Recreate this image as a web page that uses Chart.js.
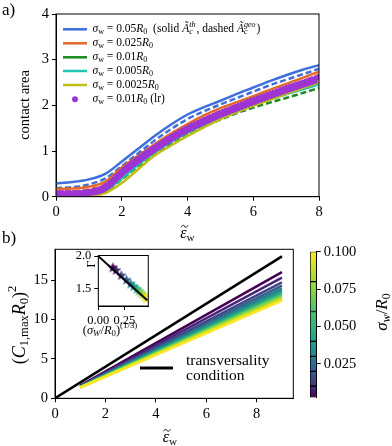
<!DOCTYPE html>
<html>
<head>
<meta charset="utf-8">
<script src="https://cdn.jsdelivr.net/npm/chart.js@4.4.1/dist/chart.umd.min.js"></script>
<style>
  body { margin: 0; background: #fff; width: 392px; height: 446px; position: relative; overflow: hidden; }
  canvas { position: absolute; }
</style>
</head>
<body>
<canvas id="cA" width="392" height="245" style="left:0;top:0"></canvas>
<canvas id="cB" width="392" height="220" style="left:0;top:226px"></canvas>
<canvas id="cI" width="95" height="95" style="left:62px;top:245px"></canvas>
<canvas id="cC" width="92" height="170" style="left:300px;top:240px"></canvas>
<script>
// ---- panel a) contact area vs eps_w ----
const epsA = [0, 0.5, 1, 1.5, 2, 2.5, 3, 3.5, 4, 4.5, 5, 5.5, 6, 6.5, 7, 7.5, 8]
const blueSolid   = [0.29, 0.32, 0.38, 0.50, 0.77, 1.05, 1.33, 1.58, 1.80, 1.96, 2.10, 2.25, 2.39, 2.53, 2.66, 2.78, 2.88]
const blueDashed  = [0.19, 0.21, 0.27, 0.40, 0.67, 0.95, 1.23, 1.48, 1.70, 1.87, 2.02, 2.16, 2.30, 2.44, 2.56, 2.68, 2.80]
const orangeSolid = [0.17, 0.18, 0.22, 0.33, 0.64, 0.90, 1.15, 1.38, 1.59, 1.78, 1.94, 2.07, 2.20, 2.34, 2.47, 2.60, 2.74]
const orangeDash  = [0.11, 0.12, 0.16, 0.27, 0.57, 0.83, 1.08, 1.31, 1.52, 1.71, 1.87, 2.00, 2.13, 2.27, 2.40, 2.53, 2.67]
const greenSolid  = [0.05, 0.05, 0.08, 0.17, 0.43, 0.73, 1.00, 1.23, 1.43, 1.61, 1.77, 1.91, 2.04, 2.16, 2.27, 2.38, 2.48]
const greenDash   = [0.03, 0.03, 0.05, 0.13, 0.38, 0.67, 0.94, 1.16, 1.36, 1.53, 1.69, 1.83, 1.95, 2.06, 2.16, 2.27, 2.38]
const cyanSolid   = [0.02, 0.02, 0.05, 0.14, 0.40, 0.70, 0.97, 1.20, 1.40, 1.58, 1.74, 1.88, 2.01, 2.13, 2.24, 2.35, 2.46]
const oliveSolid  = [0.00, 0.00, 0.01, 0.08, 0.30, 0.60, 0.90, 1.12, 1.33, 1.52, 1.70, 1.85, 1.99, 2.12, 2.25, 2.38, 2.50]
const purpleHigh  = [0.10, 0.10, 0.13, 0.25, 0.58, 0.86, 1.10, 1.33, 1.53, 1.70, 1.86, 2.00, 2.14, 2.27, 2.40, 2.52, 2.64]
const purpleMid   = [0.06, 0.07, 0.09, 0.20, 0.52, 0.80, 1.05, 1.28, 1.48, 1.65, 1.81, 1.95, 2.09, 2.22, 2.35, 2.47, 2.59]
const purpleLow   = [0.02, 0.03, 0.05, 0.15, 0.47, 0.75, 1.00, 1.23, 1.43, 1.60, 1.76, 1.90, 2.04, 2.17, 2.30, 2.42, 2.54]

// ---- panel b) (C1,max R0)^2 vs eps_w ----
const epsB = [1, 9]
const fanStart = [1.60, 1.56, 1.52, 1.49, 1.47, 1.45, 1.43, 1.41, 1.40, 1.38, 1.37, 1.36]
const fanEnd   = [16.0, 15.3, 14.7, 14.3, 13.95, 13.65, 13.4, 13.15, 12.95, 12.75, 12.55, 12.4]
const transvEps = [0, 9]
const transvVal = [0, 18]

// inset: Gamma vs (sigma_w/R0)^(1/3)
const insetX = [0.14, 0.17, 0.22, 0.27, 0.31, 0.34, 0.37, 0.39, 0.41, 0.43, 0.45, 0.46]
const insetGamma = [1.82, 1.78, 1.70, 1.63, 1.57, 1.53, 1.49, 1.46, 1.43, 1.40, 1.37, 1.34]
const fitX = [0, 0.47]
const fitGamma = [2.0, 1.32]

// colorbar
const cbBounds = [0.0025, 0.01, 0.02, 0.03, 0.04, 0.06, 0.08, 0.1]
const cbTicks = [0.025, 0.05, 0.075, 0.1]

const serif = "'Liberation Serif', 'DejaVu Serif', serif"
const viridis12 = ['#440154', '#482576', '#414487', '#35608d', '#2a788e', '#21918c',
  '#22a884', '#43bf71', '#7ad151', '#a5db36', '#d2e21b', '#fde725']
const cbCols = ['#440154', '#46327e', '#365c8d', '#277f8e', '#1fa187', '#4ac16d', '#a0da39', '#fde725']

function pts(xs, ys) {
  return xs.map((x, i) => ({ x: x, y: ys[i] }))
}

// draws a run of text parts: [text, kind] kind n/i normal, b/bi sub, p/pi sup, s = sub+sup
// a '~' in kind puts a tilde accent over the part
function rich(ctx, parts, x, y, size, align) {
  const fnt = (it, s) => (it ? 'italic ' : '') + s.toFixed(1) + 'px ' + serif
  const items = []
  let w = 0
  for (const p of parts) {
    const k = p[1]
    const it = k.includes('i') || k == 's'
    if (k[0] == 's') {
      ctx.font = fnt(true, size * 0.7)
      const w1 = ctx.measureText(p[0]).width, w2 = ctx.measureText(p[2]).width
      items.push({ t: p[0], f: fnt(true, size * 0.7), dy: size * 0.25, x: w })
      items.push({ t: p[2], f: fnt(true, size * 0.7), dy: -size * 0.4, x: w })
      w += Math.max(w1, w2) + 1
      continue
    }
    let s = size, dy = 0
    if (k[0] == 'b') { s = size * 0.7; dy = size * 0.25 }
    if (k[0] == 'p') { s = size * 0.7; dy = -size * 0.4 }
    ctx.font = fnt(it, s)
    const tw = ctx.measureText(p[0]).width
    items.push({ t: p[0], f: ctx.font, dy: dy, x: w, w: tw, tilde: k.includes('~'), s: s })
    w += tw
  }
  let x0 = x
  if (align == 'center') x0 = x - w / 2
  if (align == 'right') x0 = x - w
  ctx.textAlign = 'left'
  ctx.textBaseline = 'middle'
  ctx.fillStyle = '#000'
  for (const it of items) {
    ctx.font = it.f
    ctx.fillText(it.t, x0 + it.x, y + it.dy)
    if (it.tilde) {
      const cx = x0 + it.x + it.w / 2 + 1, cy = y + it.dy - it.s * 0.48, hw = it.s * 0.22
      ctx.strokeStyle = '#000'
      ctx.lineWidth = 0.9
      ctx.beginPath()
      ctx.moveTo(cx - hw, cy + 1)
      ctx.bezierCurveTo(cx - hw / 2, cy - 2, cx, cy - 1, cx, cy)
      ctx.bezierCurveTo(cx, cy + 1, cx + hw / 2, cy + 2, cx + hw, cy - 1)
      ctx.stroke()
    }
  }
}

function rotRich(ctx, parts, x, y, size) {
  ctx.save()
  ctx.translate(x, y)
  ctx.rotate(-Math.PI / 2)
  rich(ctx, parts, 0, 0, size, 'center')
  ctx.restore()
}

function fixedScale(min, max, ticks, fmt, size, pos, thick) {
  return {
    type: 'linear', position: pos, min: min, max: max,
    afterBuildTicks: s => { s.ticks = ticks.map(v => ({ value: v })) },
    afterFit: s => { if (s.isHorizontal()) s.height = thick; else s.width = thick },
    ticks: { font: { family: serif, size: size }, color: '#000', padding: 3, callback: fmt, maxRotation: 0, autoSkip: false },
    grid: { drawOnChartArea: false, tickLength: 4, tickColor: '#000', color: '#000' },
    border: { display: true, color: '#000', width: 1 }
  }
}

const frame = {
  id: 'frame',
  afterDatasetsDraw(c) {
    const a = c.chartArea
    c.ctx.save()
    c.ctx.strokeStyle = '#000'
    c.ctx.lineWidth = 1
    c.ctx.strokeRect(a.left, a.top, a.right - a.left, a.bottom - a.top)
    c.ctx.restore()
  }
}

const baseOpts = {
  responsive: false, animation: false, devicePixelRatio: 1,
  plugins: { legend: { display: false }, tooltip: { enabled: false } },
  elements: { point: { radius: 0 } }
}

const epsLabel = [['ε', 'i~'], ['w', 'b']]
const purple = '#9e34d4'

// ----- chart a) -----
const seriesA = [
  { y: blueSolid, c: '#3d6fdc' },
  { y: blueDashed, c: '#3d6fdc', dash: [6, 3] },
  { y: orangeSolid, c: '#e2692a' },
  { y: orangeDash, c: '#e2692a', dash: [6, 3] },
  { y: greenSolid, c: '#1b8a1b' },
  { y: greenDash, c: '#1b8a1b', dash: [6, 3] },
  { y: cyanSolid, c: '#20c4b4' },
  { y: oliveSolid, c: '#bfbf14' },
  { y: purpleLow, c: purple, dots: true },
  { y: purpleMid, c: purple, dots: true },
  { y: purpleHigh, c: purple, dots: true }
]

const legendRows = [
  { c: '#3d6fdc', t: [['σ', 'i'], ['w', 'b'], [' = 0.05', 'n'], ['R', 'i'], ['0', 'b'], ['  (solid ', 'n'], ['Ã', 'i'], ['c', 's', 'th'], [', dashed ', 'n'], ['Ã', 'i'], ['c', 's', 'geo'], [')', 'n']] },
  { c: '#e2692a', t: [['σ', 'i'], ['w', 'b'], [' = 0.025', 'n'], ['R', 'i'], ['0', 'b']] },
  { c: '#1b8a1b', t: [['σ', 'i'], ['w', 'b'], [' = 0.01', 'n'], ['R', 'i'], ['0', 'b']] },
  { c: '#20c4b4', t: [['σ', 'i'], ['w', 'b'], [' = 0.005', 'n'], ['R', 'i'], ['0', 'b']] },
  { c: '#bfbf14', t: [['σ', 'i'], ['w', 'b'], [' = 0.0025', 'n'], ['R', 'i'], ['0', 'b']] },
  { c: purple, dot: true, t: [['σ', 'i'], ['w', 'b'], [' = 0.01', 'n'], ['R', 'i'], ['0', 'b'], [' (lr)', 'n']] }
]

const labelsA = {
  id: 'labelsA',
  afterDraw(c) {
    const ctx = c.ctx
    ctx.save()
    const rowY = [29.3, 43.3, 57.3, 71, 85, 99.3]
    legendRows.forEach((r, i) => {
      if (r.dot) {
        ctx.fillStyle = r.c
        ctx.beginPath()
        ctx.arc(75, rowY[i], 3, 0, Math.PI * 2)
        ctx.fill()
      } else {
        ctx.strokeStyle = r.c
        ctx.lineWidth = 2.5
        ctx.beginPath()
        ctx.moveTo(63, rowY[i])
        ctx.lineTo(87, rowY[i])
        ctx.stroke()
      }
      rich(ctx, r.t, 92.5, rowY[i], 11.5, 'left')
    })
    rich(ctx, [['a)', 'n']], 2, 11, 17, 'left')
    rotRich(ctx, [['contact area', 'n']], 25, 105, 14.5)
    rich(ctx, epsLabel, 187.5, 234, 16, 'center')
    ctx.restore()
  }
}

new Chart(document.getElementById('cA'), {
  type: 'line',
  data: {
    datasets: seriesA.map((s, i) => ({
      data: pts(epsA, s.y),
      borderColor: s.c,
      borderWidth: s.dots ? 4.2 : 2.5,
      borderDash: s.dots ? [0, 3.4] : (s.dash || []),
      borderCapStyle: s.dots ? 'round' : 'butt',
      cubicInterpolationMode: 'monotone',
      pointRadius: 0,
      order: -i
    }))
  },
  options: Object.assign({}, baseOpts, {
    layout: { autoPadding: false, padding: { left: 0, top: 14, right: 73, bottom: 0 } },
    scales: {
      x: fixedScale(0, 8, [0, 2, 4, 6, 8], v => v, 14.5, 'bottom', 48.3),
      y: fixedScale(0, 4, [0, 1, 2, 3, 4], v => v, 14.5, 'left', 56)
    }
  }),
  plugins: [frame, labelsA]
})

// ----- chart b) -----
const labelsB = {
  id: 'labelsB',
  afterDraw(c) {
    const ctx = c.ctx
    ctx.save()
    rich(ctx, [['b)', 'n']], 2, 13, 17, 'left')
    rotRich(ctx, [['(', 'n'], ['C', 'i'], ['1,max', 'b'], ['R', 'i'], ['0', 'b'], [')', 'n'], ['2', 'p']], 20, 99, 18)
    rich(ctx, epsLabel, 170, 212, 16, 'center')
    // legend for the black line
    ctx.strokeStyle = '#000'
    ctx.lineWidth = 3
    ctx.beginPath()
    ctx.moveTo(140, 142)
    ctx.lineTo(173, 142)
    ctx.stroke()
    rich(ctx, [['transversality', 'n']], 186, 135, 15.5, 'left')
    rich(ctx, [['condition', 'n']], 186, 150, 15.5, 'left')
    ctx.restore()
  }
}

const dsB = fanEnd.map((e, i) => ({
  data: pts(epsB, [fanStart[i], e]),
  borderColor: viridis12[i],
  borderWidth: 2.5,
  pointRadius: 0,
  order: -i
}))
dsB.push({
  data: pts(transvEps, transvVal),
  borderColor: '#000',
  borderWidth: 2.5,
  pointRadius: 0,
  order: -100
})

new Chart(document.getElementById('cB'), {
  type: 'line',
  data: { datasets: dsB },
  options: Object.assign({}, baseOpts, {
    layout: { autoPadding: false, padding: { left: 0, top: 23.3, right: 98.7, bottom: 0 } },
    scales: {
      x: fixedScale(0, 9.45, [0, 2, 4, 6, 8], v => v, 14.5, 'bottom', 47.7),
      y: fixedScale(0, 18.9, [0, 5, 10, 15], v => v, 14.5, 'left', 55)
    }
  }),
  plugins: [frame, labelsB]
})

// ----- inset -----
function starImg(color, r) {
  const cv = document.createElement('canvas')
  cv.width = cv.height = 2 * r + 2
  const g = cv.getContext('2d')
  g.beginPath()
  for (let k = 0; k < 10; k++) {
    const rr = k % 2 ? r * 0.45 : r
    const a = -Math.PI / 2 + k * Math.PI / 5
    g.lineTo(r + 1 + rr * Math.cos(a), r + 1 + rr * Math.sin(a))
  }
  g.closePath()
  g.fillStyle = color
  g.fill()
  return cv
}

const whiteBg = {
  id: 'whiteBg',
  beforeDatasetsDraw(c) {
    const a = c.chartArea
    c.ctx.save()
    c.ctx.fillStyle = '#fff'
    c.ctx.fillRect(a.left, a.top, a.right - a.left, a.bottom - a.top)
    c.ctx.restore()
  }
}

const labelsI = {
  id: 'labelsI',
  afterDraw(c) {
    const ctx = c.ctx
    ctx.save()
    rotRich(ctx, [['Γ', 'n']], 30, 19, 12)
    rich(ctx, [['(', 'n'], ['σ', 'i'], ['W', 'bi'], ['/', 'n'], ['R', 'i'], ['0', 'b'], [')', 'n'], ['(1/3)', 'p']], 48, 86, 12.5, 'center')
    ctx.restore()
  }
}

new Chart(document.getElementById('cI'), {
  type: 'scatter',
  data: {
    datasets: [
      {
        data: pts(insetX, insetGamma),
        pointStyle: viridis12.map(col => starImg(col, 5.5)),
        pointRadius: 5.5,
        order: 1
      },
      {
        type: 'line',
        data: pts(fitX, fitGamma),
        borderColor: '#000',
        borderWidth: 2,
        pointRadius: 0,
        order: 0
      }
    ]
  },
  options: Object.assign({}, baseOpts, {
    layout: { autoPadding: false, padding: { left: 0, top: 9.3, right: 8.7, bottom: 0 } },
    scales: {
      x: fixedScale(0, 0.48, [0, 0.25], v => v.toFixed(2), 12.5, 'bottom', 34),
      y: fixedScale(1.23, 2.01, [1.5, 2.0], v => v.toFixed(1), 12.5, 'left', 36.3)
    }
  }),
  plugins: [whiteBg, frame, labelsI]
})

// ----- colorbar -----
const labelsC = {
  id: 'labelsC',
  afterDraw(c) {
    rotRich(c.ctx, [['σ', 'i'], ['w', 'bi'], ['/', 'n'], ['R', 'i'], ['0', 'b']], 83, 72, 17)
  }
}

const cbData = []
for (let i = 0; i < cbBounds.length - 1; i++) {
  const lo = cbBounds[i], hi = cbBounds[i + 1]
  cbData.push({
    data: [[lo, hi]],
    backgroundColor: ctx => {
      const ch = ctx.chart
      const ys = ch.scales.y
      if (!ch.chartArea || !ys) return cbCols[i]
      const g = ch.ctx.createLinearGradient(0, ys.getPixelForValue(lo), 0, ys.getPixelForValue(hi))
      g.addColorStop(0, cbCols[i])
      g.addColorStop(1, cbCols[i + 1])
      return g
    },
    borderColor: '#000',
    borderWidth: 1,
    borderSkipped: false,
    barPercentage: 1,
    categoryPercentage: 1,
    grouped: false
  })
}

new Chart(document.getElementById('cC'), {
  type: 'bar',
  data: { labels: [''], datasets: cbData },
  options: Object.assign({}, baseOpts, {
    layout: { autoPadding: false, padding: { left: 10, top: 9.3, right: 0, bottom: 12.5 } },
    scales: {
      x: { type: 'category', display: false },
      y: fixedScale(0.0025, 0.1, cbTicks, v => v.toFixed(3), 14.5, 'right', 75.3)
    }
  }),
  plugins: [labelsC]
})
</script>
</body>
</html>
